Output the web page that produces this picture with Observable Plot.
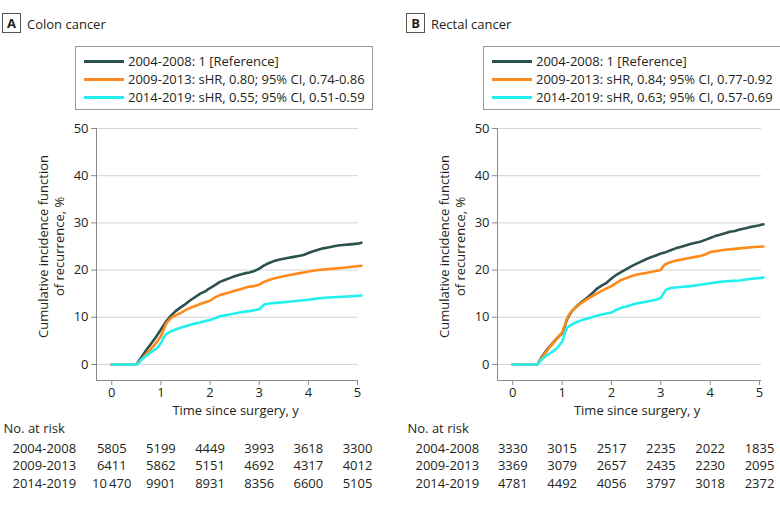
<!DOCTYPE html>
<html>
<head>
<meta charset="utf-8">
<script src="https://cdn.jsdelivr.net/npm/d3@7"></script>
<script src="https://cdn.jsdelivr.net/npm/@observablehq/plot@0.6"></script>
<style>
  html, body { margin: 0; padding: 0; background: #fff; }
  #root { position: relative; width: 780px; height: 506px; overflow: hidden; font-family: "Open Sans", "Noto Sans", sans-serif; color: #231f20; }
  .pbox { position: absolute; width: 17px; height: 18px; border: 1px solid #555; font-weight: bold; font-size: 13px; line-height: 18px; text-align: center; }
  .ptitle { position: absolute; font-size: 13px; line-height: 20px; }
  .legend { position: absolute; border: 1px solid #9a9a9a; box-sizing: border-box; padding-top: 5px; }
  .lrow { position: relative; height: 18px; font-size: 13px; line-height: 18px; white-space: nowrap; }
  .lsw { position: absolute; left: 8px; top: 8px; width: 40px; height: 3px; }
  .ltx { position: absolute; left: 52px; top: 0; }
  .svgwrap { position: absolute; top: 115px; }
</style>
</head>
<body>
<div id="root"></div>
<script>
// ---------- data ----------
const periods = ["2004-2008", "2009-2013", "2014-2019"];
const colors = ["#2d514e", "#ff8a1c", "#22f0f0"];
const xTicks = [0, 1, 2, 3, 4, 5];
const yTicks = [0, 10, 20, 30, 40, 50];

const colonLegend = ["2004-2008: 1 [Reference]", "2009-2013: sHR, 0.80; 95% CI, 0.74-0.86", "2014-2019: sHR, 0.55; 95% CI, 0.51-0.59"];
const rectalLegend = ["2004-2008: 1 [Reference]", "2009-2013: sHR, 0.84; 95% CI, 0.77-0.92", "2014-2019: sHR, 0.63; 95% CI, 0.57-0.69"];

// Colon cancer curves (time in years, cumulative incidence %)
const colonT_2004 = [0,0.5,0.6,0.7,0.8,0.9,1.0,1.1,1.2,1.3,1.4,1.5,1.6,1.7,1.8,1.9,2.0,2.1,2.2,2.3,2.4,2.5,2.6,2.7,2.8,2.9,3.0,3.1,3.2,3.3,3.4,3.5,3.6,3.7,3.8,3.9,4.0,4.1,4.2,4.3,4.4,4.5,4.6,4.7,4.8,4.9,5.0,5.08];
const colonV_2004 = [0,0,1.5,3.0,4.4,5.8,7.4,9.0,10.3,11.3,12.1,12.8,13.6,14.3,15.0,15.5,16.2,16.8,17.5,17.9,18.3,18.7,19.0,19.3,19.5,19.8,20.3,21.0,21.5,21.9,22.2,22.4,22.6,22.8,23.0,23.2,23.6,24.0,24.3,24.6,24.8,25.0,25.2,25.3,25.4,25.5,25.6,25.8];
const colonT_2009 = [0,0.5,0.6,0.7,0.8,0.9,1.0,1.05,1.1,1.15,1.2,1.3,1.4,1.5,1.6,1.7,1.8,1.9,2.0,2.1,2.2,2.3,2.4,2.5,2.6,2.7,2.8,2.9,3.0,3.1,3.2,3.3,3.4,3.5,3.6,3.7,3.8,3.9,4.0,4.2,4.4,4.6,4.8,5.08];
const colonV_2009 = [0,0,1.0,2.2,3.3,4.5,6.0,7.2,8.5,9.2,9.8,10.4,10.9,11.5,12.0,12.4,12.8,13.2,13.5,14.2,14.7,15.0,15.3,15.6,15.9,16.2,16.5,16.6,16.9,17.5,17.9,18.2,18.5,18.7,18.9,19.1,19.3,19.5,19.7,20.0,20.2,20.4,20.6,20.9];
const colonT_2014 = [0,0.5,0.55,0.6,0.7,0.8,0.9,0.95,1.0,1.05,1.1,1.2,1.3,1.4,1.5,1.6,1.7,1.8,1.9,2.0,2.1,2.2,2.3,2.4,2.5,2.6,2.7,2.8,2.9,3.0,3.05,3.1,3.2,3.4,3.6,3.8,4.0,4.2,4.4,4.6,4.8,5.08];
const colonV_2014 = [0,0,0.3,1.0,1.8,2.6,3.3,3.8,4.5,5.6,6.4,7.0,7.4,7.8,8.1,8.4,8.7,8.9,9.2,9.4,9.8,10.2,10.4,10.6,10.8,11.0,11.2,11.3,11.5,11.7,12.2,12.7,12.9,13.1,13.3,13.5,13.7,14.0,14.2,14.3,14.4,14.6];

// Rectal cancer curves
const rectalT_2004 = [0,0.5,0.6,0.7,0.8,0.9,1.0,1.05,1.1,1.15,1.2,1.3,1.4,1.5,1.6,1.7,1.8,1.9,2.0,2.1,2.2,2.3,2.4,2.5,2.6,2.7,2.8,2.9,3.0,3.1,3.2,3.3,3.4,3.5,3.6,3.7,3.8,3.9,4.0,4.1,4.2,4.3,4.4,4.5,4.6,4.7,4.8,4.9,5.0,5.08];
const rectalV_2004 = [0,0,1.8,3.2,4.4,5.6,6.6,8.0,9.6,10.5,11.3,12.4,13.3,14.1,15.0,16.0,16.7,17.3,18.2,19.0,19.6,20.2,20.8,21.3,21.8,22.3,22.7,23.1,23.5,23.8,24.2,24.6,24.9,25.2,25.5,25.8,26.0,26.4,26.8,27.2,27.5,27.8,28.1,28.3,28.6,28.8,29.1,29.3,29.5,29.7];
const rectalT_2009 = [0,0.5,0.6,0.7,0.8,0.9,1.0,1.05,1.1,1.15,1.2,1.3,1.4,1.5,1.6,1.7,1.8,1.9,2.0,2.1,2.2,2.3,2.4,2.5,2.6,2.7,2.8,2.9,3.0,3.05,3.1,3.2,3.3,3.4,3.5,3.6,3.7,3.8,3.9,4.0,4.1,4.3,4.5,4.7,4.9,5.08];
const rectalV_2009 = [0,0,1.6,3.0,4.3,5.5,6.8,8.2,9.8,10.7,11.4,12.3,13.1,13.8,14.4,15.0,15.6,16.1,16.6,17.3,17.9,18.3,18.7,19.0,19.2,19.4,19.6,19.8,20.0,20.8,21.3,21.7,22.0,22.2,22.4,22.6,22.8,23.0,23.3,23.8,24.0,24.3,24.5,24.7,24.9,25.0];
const rectalT_2014 = [0,0.5,0.6,0.7,0.8,0.9,1.0,1.05,1.1,1.2,1.3,1.4,1.5,1.6,1.7,1.8,1.9,2.0,2.1,2.2,2.3,2.4,2.5,2.6,2.7,2.8,2.9,3.0,3.05,3.1,3.2,3.4,3.6,3.8,4.0,4.2,4.4,4.6,4.8,5.08];
const rectalV_2014 = [0,0,1.2,2.0,2.7,3.5,4.8,6.5,7.8,8.5,9.0,9.4,9.7,10.0,10.3,10.6,10.8,11.0,11.6,12.0,12.3,12.6,12.9,13.1,13.3,13.5,13.7,14.1,15.0,15.8,16.2,16.4,16.6,16.9,17.2,17.5,17.7,17.8,18.1,18.4];

// Number at risk at years 0..5
const colonRisk_2004 = ["5805", "5199", "4449", "3993", "3618", "3300"];
const colonRisk_2009 = ["6411", "5862", "5151", "4692", "4317", "4012"];
const colonRisk_2014 = ["10\u2009470", "9901", "8931", "8356", "6600", "5105"];
const rectalRisk_2004 = ["3330", "3015", "2517", "2235", "2022", "1835"];
const rectalRisk_2009 = ["3369", "3079", "2657", "2435", "2230", "2095"];
const rectalRisk_2014 = ["4781", "4492", "4056", "3797", "3018", "2372"];

// ---------- helpers ----------
function curve(period, T, V) { return T.map((t, i) => ({period, t, v: V[i]})); }
function riskRows(rows) {
  const out = [];
  rows.forEach((r, k) => r.forEach((n, i) => out.push({row: k, t: xTicks[i], n})));
  return out;
}

const root = document.getElementById("root");
const FONT = '"Open Sans", "Noto Sans", sans-serif';

function makePanel(cfg) {
  const p = document.createElement("div");
  p.innerHTML = `
    <div class="pbox" style="left:${cfg.boxLeft}px;top:13px">${cfg.letter}</div>
    <div class="ptitle" style="left:${cfg.boxLeft + 25}px;top:14px">${cfg.title}</div>`;
  const leg = document.createElement("div");
  leg.className = "legend";
  leg.style.left = cfg.legLeft + "px"; leg.style.top = "46px";
  leg.style.width = "298px"; leg.style.height = "64px";
  cfg.legend.forEach((txt, i) => {
    const r = document.createElement("div");
    r.className = "lrow";
    r.innerHTML = `<div class="lsw" style="background:${colors[i]}"></div><div class="ltx">${txt}</div>`;
    leg.appendChild(r);
  });
  p.appendChild(leg);

  const data = [
    ...curve(periods[0], cfg.series[0][0], cfg.series[0][1]),
    ...curve(periods[1], cfg.series[1][0], cfg.series[1][1]),
    ...curve(periods[2], cfg.series[2][0], cfg.series[2][1])
  ];
  const risk = riskRows(cfg.risk);
  const xMin = -0.31, xMax = cfg.xMax, yMin = -3.4, yMax = 50;
  const rowDy = [72, 89, 107];

  const chart = Plot.plot({
    width: 390, height: 391,
    marginLeft: cfg.ml, marginRight: 390 - cfg.ml - cfg.pw, marginTop: 13, marginBottom: 126,
    style: {fontFamily: FONT, fontSize: "13px", color: "#231f20", background: "transparent", overflow: "visible"},
    x: {domain: [xMin, xMax]},
    y: {domain: [yMin, yMax]},
    color: {domain: periods, range: colors},
    marks: [
      Plot.gridY(yTicks, {stroke: "#d4d4d4", strokeOpacity: 1, strokeWidth: 1}),
      Plot.ruleX([xMin], {stroke: "#8a8a8a"}),
      Plot.ruleY([yMin], {stroke: "#8a8a8a"}),
      Plot.axisY({ticks: yTicks, tickSize: 5, tickPadding: 3, stroke: "#8a8a8a", fill: "#231f20", label: null, tickFormat: "d"}),
      Plot.axisX({ticks: xTicks, tickSize: 5, tickPadding: 2, stroke: "#8a8a8a", fill: "#231f20", label: null, tickFormat: "d"}),
      Plot.line(data, {x: "t", y: "v", z: "period", stroke: "period", strokeWidth: 2.6, strokeLinejoin: "round"}),
      Plot.text(["Cumulative incidence function\nof recurrence, %"], {y: 25, frameAnchor: "left", textAnchor: "middle", lineAnchor: "middle", dx: -46, rotate: -90, lineHeight: 1.25, fontSize: 13, fill: "#231f20"}),
      Plot.text(["Time since surgery, y"], {x: 2.52, frameAnchor: "bottom", dy: 34, fontSize: 13, fill: "#231f20"}),
      Plot.text(["No. at risk"], {frameAnchor: "bottom-left", dx: cfg.noDx, dy: 52, textAnchor: "start", fontSize: 13, fill: "#231f20"}),
      ...[0, 1, 2].map(k => Plot.text(risk.filter(d => d.row === k), {x: "t", text: "n", frameAnchor: "bottom", dy: rowDy[k], fontSize: 13, fill: "#231f20"})),
      ...[0, 1, 2].map(k => Plot.text([periods[k]], {frameAnchor: "bottom-left", dx: cfg.rowDx, dy: rowDy[k], textAnchor: "start", fontSize: 13, fill: "#231f20"}))
    ]
  });
  const wrap = document.createElement("div");
  wrap.className = "svgwrap";
  wrap.style.left = cfg.left + "px";
  wrap.appendChild(chart);
  p.appendChild(wrap);
  root.appendChild(p);
}

makePanel({
  letter: "A", title: "Colon cancer", boxLeft: 2, legLeft: 75, left: 0,
  ml: 96, pw: 262, xMax: 5.02, noDx: -93, rowDx: -84,
  legend: colonLegend,
  series: [[colonT_2004, colonV_2004], [colonT_2009, colonV_2009], [colonT_2014, colonV_2014]],
  risk: [colonRisk_2004, colonRisk_2009, colonRisk_2014]
});
makePanel({
  letter: "B", title: "Rectal cancer", boxLeft: 406, legLeft: 483, left: 390,
  ml: 107, pw: 264, xMax: 5.04, noDx: -90, rowDx: -82,
  legend: rectalLegend,
  series: [[rectalT_2004, rectalV_2004], [rectalT_2009, rectalV_2009], [rectalT_2014, rectalV_2014]],
  risk: [rectalRisk_2004, rectalRisk_2009, rectalRisk_2014]
});
</script>
</body>
</html>
